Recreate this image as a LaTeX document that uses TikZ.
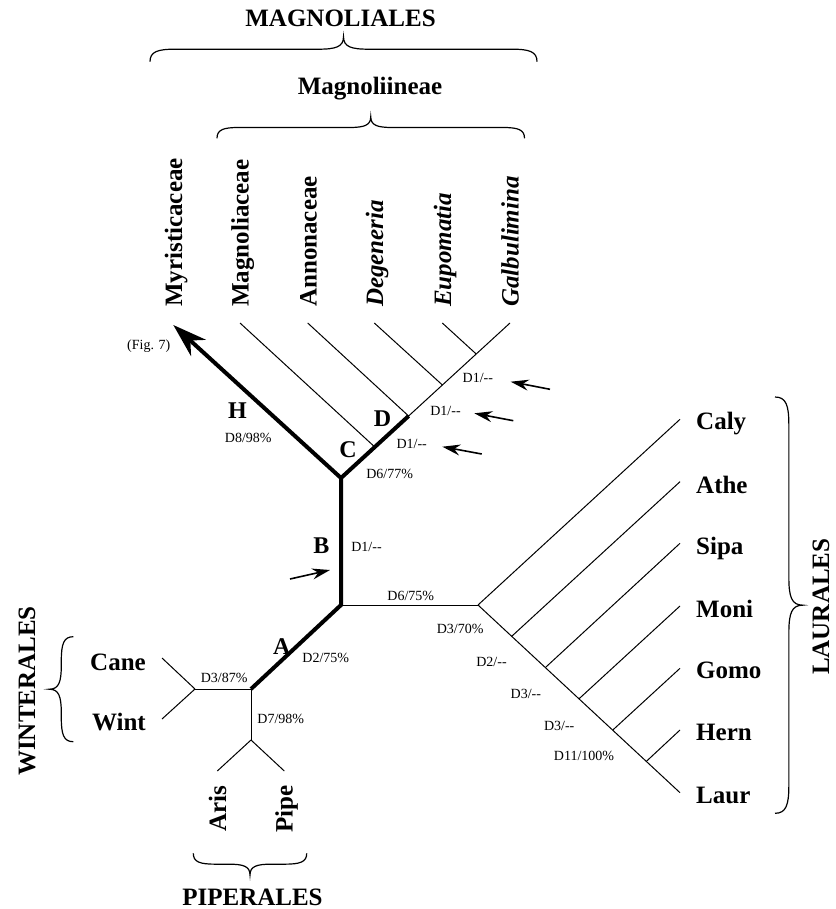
\documentclass[tikz,border=0pt]{standalone}
\usepackage{fontspec}
\setmainfont{Liberation Serif}
\usetikzlibrary{arrows.meta}
\newcommand\mybraceh[4]{%
\draw[bracepath] (#1,#3)
 .. controls (#1,{#3-0.4*(#4)}) and ({#1+0.3*abs(#4)},{#3-0.5*(#4)}) .. ({#1+abs(#4)},{#3-0.5*(#4)})
 -- ({(#1+#2)/2-abs(#4)},{#3-0.5*(#4)})
 .. controls ({(#1+#2)/2-0.3*abs(#4)},{#3-0.5*(#4)}) and ({(#1+#2)/2},{#3-0.6*(#4)}) .. ({(#1+#2)/2},{#3-(#4)})
 .. controls ({(#1+#2)/2},{#3-0.6*(#4)}) and ({(#1+#2)/2+0.3*abs(#4)},{#3-0.5*(#4)}) .. ({(#1+#2)/2+abs(#4)},{#3-0.5*(#4)})
 -- ({#2-abs(#4)},{#3-0.5*(#4)})
 .. controls ({#2-0.3*abs(#4)},{#3-0.5*(#4)}) and (#2,{#3-0.4*(#4)}) .. (#2,#3);}
\newcommand\mybracev[4]{%
\draw[bracepath] (#3,#1)
 .. controls ({#3-0.4*(#4)},#1) and ({#3-0.5*(#4)},{#1+0.3*abs(#4)}) .. ({#3-0.5*(#4)},{#1+abs(#4)})
 -- ({#3-0.5*(#4)},{(#1+#2)/2-abs(#4)})
 .. controls ({#3-0.5*(#4)},{(#1+#2)/2-0.3*abs(#4)}) and ({#3-0.6*(#4)},{(#1+#2)/2}) .. ({#3-(#4)},{(#1+#2)/2})
 .. controls ({#3-0.6*(#4)},{(#1+#2)/2}) and ({#3-0.5*(#4)},{(#1+#2)/2+0.3*abs(#4)}) .. ({#3-0.5*(#4)},{(#1+#2)/2+abs(#4)})
 -- ({#3-0.5*(#4)},{#2-abs(#4)})
 .. controls ({#3-0.5*(#4)},{#2-0.3*abs(#4)}) and ({#3-0.4*(#4)},#2) .. (#3,#2);}
\begin{document}
\begin{tikzpicture}[x=1pt,y=-1pt,
  thin branch/.style={line width=1pt,black},
  thick branch/.style={line width=4pt,black,line join=miter},
  bracepath/.style={line width=1.2pt,black},
  bigarrow/.style={thick branch,-{Stealth[length=34pt,width=22pt,inset=11pt]}},
  smallarrow/.style={line width=1.6pt,-{Stealth[length=18pt,width=11pt,inset=6pt]}},
  taxon/.style={font=\fontsize{25}{30}\selectfont\bfseries,inner sep=0pt},
  itaxon/.style={font=\fontsize{25}{30}\selectfont\bfseries\itshape,inner sep=0pt},
  order/.style={font=\fontsize{25}{30}\selectfont\bfseries,inner sep=0pt},
  letter/.style={font=\fontsize{24}{28}\selectfont\bfseries,inner sep=0pt},
  support/.style={font=\fontsize{14}{16}\selectfont,inner sep=0pt}]
\useasboundingbox (0,0) rectangle (835,909);
% junctions
\coordinate (J1) at (341,478);
\coordinate (J2) at (341,605);
\coordinate (J3) at (251,689);
\coordinate (J4) at (195,689);
\coordinate (J5) at (251,740);
\coordinate (J6) at (478,605);
% Magnoliales
\coordinate (Myr) at (173.3,325);
\coordinate (Gal) at (510,323);
\coordinate (k1) at (374.8,447);
\coordinate (k2) at (408.6,416);
\coordinate (k3) at (442.4,385);
\coordinate (k4) at (476.2,354);
\coordinate (Mag) at (240,323);
\coordinate (Ann) at (307.7,323);
\coordinate (Deg) at (374.3,323);
\coordinate (Eup) at (442.3,323);
% Laurales
\coordinate (Caly) at (680,419.3);
\coordinate (Athe) at (680,481.7);
\coordinate (Sipa) at (680,543.3);
\coordinate (Moni) at (680,606);
\coordinate (Gomo) at (680,668.3);
\coordinate (Hern) at (680,730);
\coordinate (Laur) at (680,792.7);
\coordinate (m1) at (511.7,636.3);
\coordinate (m2) at (545.3,667.6);
\coordinate (m3) at (579,698.8);
\coordinate (m4) at (612.7,730.1);
\coordinate (m5) at (646.3,761.4);
% Winterales, Piperales
\coordinate (Cane) at (162,658);
\coordinate (Wint) at (162,719);
\coordinate (Aris) at (217.3,771);
\coordinate (Pipe) at (284.3,771);
% thin branches
\draw[thin branch] (k2) -- (Gal);
\draw[thin branch] (k1) -- (Mag);
\draw[thin branch] (k2) -- (Ann);
\draw[thin branch] (k3) -- (Deg);
\draw[thin branch] (k4) -- (Eup);
\draw[thin branch] (J2) -- (J6);
\draw[thin branch] (J6) -- (Caly);
\draw[thin branch] (J6) -- (Laur);
\draw[thin branch] (m1) -- (Athe);
\draw[thin branch] (m2) -- (Sipa);
\draw[thin branch] (m3) -- (Moni);
\draw[thin branch] (m4) -- (Gomo);
\draw[thin branch] (m5) -- (Hern);
\draw[thin branch] (J3) -- (J4);
\draw[thin branch] (J4) -- (Cane);
\draw[thin branch] (J4) -- (Wint);
\draw[thin branch] (J3) -- (J5);
\draw[thin branch] (J5) -- (Aris);
\draw[thin branch] (J5) -- (Pipe);
% thick branches
\draw[thick branch] (J1) -- (J2) -- (J3);
\draw[thick branch] (J1) -- (k2);
\draw[bigarrow] (J1) -- (Myr);
% small arrows
\coordinate (a1s) at (550,389.3); \coordinate (a1e) at (510.7,381.7);
\coordinate (a2s) at (513.3,420.7); \coordinate (a2e) at (474.3,413.3);
\coordinate (a3s) at (481.7,454); \coordinate (a3e) at (442.3,446.7);
\coordinate (aBs) at (290,579); \coordinate (aBe) at (330,570);
\draw[smallarrow] (a1s) -- (a1e);
\draw[smallarrow] (a2s) -- (a2e);
\draw[smallarrow] (a3s) -- (a3e);
\draw[smallarrow] (aBs) -- (aBe);
% top taxa
\node[taxon,rotate=90,anchor=base west] (tMyr) at (182,307) {Myristicaceae};
\node[taxon,rotate=90,anchor=base west] (tMag) at (248.5,307) {Magnoliaceae};
\node[taxon,rotate=90,anchor=base west] (tAnn) at (316.5,307) {Annonaceae};
\node[itaxon,rotate=90,anchor=base west] (tDeg) at (383,307) {Degeneria};
\node[itaxon,rotate=90,anchor=base west] (tEup) at (451,307) {Eupomatia};
\node[itaxon,rotate=90,anchor=base west] (tGal) at (518.5,307) {Galbulimina};
% Laurales taxa
\node[taxon,anchor=base west] (tCaly) at (696,429) {Caly};
\node[taxon,anchor=base west] (tAthe) at (696,493) {Athe};
\node[taxon,anchor=base west] (tSipa) at (696,554) {Sipa};
\node[taxon,anchor=base west] (tMoni) at (696,617) {Moni};
\node[taxon,anchor=base west] (tGomo) at (696,678.5) {Gomo};
\node[taxon,anchor=base west] (tHern) at (696,740.7) {Hern};
\node[taxon,anchor=base west] (tLaur) at (696,803.3) {Laur};
% Winterales / Piperales taxa
\node[taxon,anchor=base east] (tCane) at (146,670) {Cane};
\node[taxon,anchor=base east] (tWint) at (146,730.7) {Wint};
\node[taxon,rotate=90,anchor=base west] (tAris) at (226,832) {Aris};
\node[taxon,rotate=90,anchor=base west] (tPipe) at (292.5,832.5) {Pipe};
% orders
\node[order,anchor=base] (oMagn) at (340.5,26.5) {MAGNOLIALES};
\node[order,anchor=base] (oMagi) at (370,94.3) {Magnoliineae};
\node[order,anchor=base] (oPip) at (252.5,905) {PIPERALES};
\node[order,rotate=90,anchor=base] (oWin) at (35,691) {WINTERALES};
\node[order,rotate=90,anchor=base] (oLau) at (829,606.7) {LAURALES};
% braces
\mybraceh{150}{537}{61.7}{25}
\mybraceh{217}{524.5}{138.3}{21.6}
\mybraceh{193.3}{306.7}{853.3}{-21.7}
\mybracev{636.7}{741.7}{73.3}{24}
\mybracev{397}{813.3}{775}{-27.7}
% letters
\node[letter] (lH) at (237.5,410.5) {H};
\node[letter] (lC) at (348,449.4) {C};
\node[letter] (lD) at (382.5,418.2) {D};
\node[letter] (lA) at (281.7,646.7) {A};
\node[letter] (lB) at (321.3,546) {B};
% support labels
\node[support] (s1) at (477.8,378.3) {D1/-{}-};
\node[support] (s2) at (445.5,411) {D1/-{}-};
\node[support] (s3) at (411.7,444.3) {D1/-{}-};
\node[support] (s4) at (389.7,474.3) {D6/77\%};
\node[support] (s5) at (248.3,438.3) {D8/98\%};
\node[support] (sfig) at (148.8,345.7) {(Fig. 7)};
\node[support] (s6) at (366.5,546.7) {D1/-{}-};
\node[support] (s7) at (410.8,596) {D6/75\%};
\node[support] (s8) at (460.2,629.3) {D3/70\%};
\node[support] (s9) at (491.5,662.3) {D2/-{}-};
\node[support] (s10) at (525.8,694.3) {D3/-{}-};
\node[support] (s11) at (559.2,725.7) {D3/-{}-};
\node[support] (s12) at (584,756) {D11/100\%};
\node[support] (s13) at (325.8,658.3) {D2/75\%};
\node[support] (s14) at (224.2,678.3) {D3/87\%};
\node[support] (s15) at (280.8,719) {D7/98\%};
\end{tikzpicture}
\end{document}
